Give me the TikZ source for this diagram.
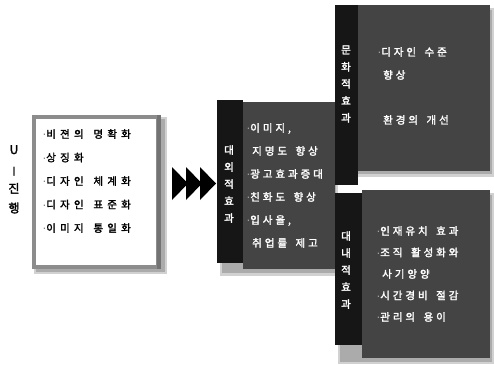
\documentclass[tikz,border=0pt]{standalone}
\usepackage{fontspec}
\newfontfamily\kr[LetterSpace=28,WordSpace=1.6,FakeBold=2.2]{Noto Sans CJK KR}
\newfontfamily\krw[LetterSpace=40,WordSpace=1.5,FakeBold=2.0]{Noto Sans CJK KR}
\newfontfamily\krv[FakeBold=2.2]{Noto Sans CJK KR}
\newfontfamily\dotf{DejaVu Sans}
\newcommand\bul{{\dotf\fontsize{8}{8}\selectfont ·}\hspace{0.5pt}}
\definecolor{bodyc}{HTML}{444444}
\definecolor{stripc}{HTML}{161616}
\definecolor{framec}{HTML}{8C8C8C}
\begin{document}
\begin{tikzpicture}[x=1pt,y=-1pt,
  softshadow/.style={fill=black,opacity=0.18},
  bodybox/.style={fill=bodyc,draw=none,inner sep=0,anchor=north west},
  stripbox/.style={fill=stripc,draw=none,inner sep=0,anchor=north west},
  whitetext/.style={text=white,font=\kr\fontsize{10.5}{23}\selectfont,align=left,inner sep=0,anchor=north west},
  blacktext/.style={text=black,font=\krw\fontsize{10.5}{23.5}\selectfont,align=left,inner sep=0,anchor=north west},
  vtext/.style={text=white,font=\krv\fontsize{10.5}{17}\selectfont,align=center,inner sep=0},
  arrowtri/.style={fill=black}
]
\useasboundingbox (0,0) rectangle (494,364);

% ---------- left box ----------
\fill[softshadow] (34,117) rectangle (167,274);
\fill[softshadow] (36,119) rectangle (165,272);
\node[fill=white,draw=framec,line width=3.5pt,inner sep=0,anchor=north west,
      minimum width=124,minimum height=150] (lb) at (32,115) {};
\draw[line width=4pt,draw=black!55] ([xshift=-1pt]lb.north east) -- ([xshift=-1pt]lb.south east);
\node[blacktext] (lbt) at (43,129)
  {\bul 비젼의 명확화\\\bul 상징화\\\bul 디자인 체계화\\\bul 디자인 표준화\\\bul 이미지 통일화};

% ---------- label U-진행 ----------
\node[text=black,font=\krv\fontsize{12}{19.5}\selectfont,align=center,inner sep=0,anchor=north]
  (ulab) at (14,145) {U\\{\fontsize{8}{8}\selectfont |}\\진\\행};

% ---------- arrows ----------
\fill[arrowtri] (172,167) -- (188,183.5) -- (172,200) -- cycle;
\fill[arrowtri] (186,167) -- (202,183.5) -- (186,200) -- cycle;
\fill[arrowtri] (200,167) -- (216,183.5) -- (200,200) -- cycle;

% ---------- middle box ----------
\fill[softshadow] (220,104) rectangle (338,276);
\fill[softshadow] (222,106) rectangle (336,273);
\node[bodybox,minimum width=92,minimum height=167] (mb) at (243,102) {};
\node[stripbox,minimum width=26,minimum height=163] (ms) at (217,100) {};
\node[vtext] (mst) at (229,184) {대\\외\\적\\효\\과};
\node[whitetext] (mbt) at (247,123)
  {\bul 이미지,\\\hspace{5pt}지명도 향상\\\bul 광고효과증대\\\bul 친화도 향상\\\bul 입사율,\\\hspace{5pt}취업률 제고};

% ---------- upper right box ----------
\fill[softshadow] (338,8) rectangle (494,177);
\fill[softshadow] (340,10) rectangle (492,174);
\node[bodybox,minimum width=132,minimum height=166] (ub) at (358,5) {};
\node[stripbox,minimum width=23,minimum height=180] (us) at (335,5) {};
\node[vtext] (ust) at (346,84) {문\\화\\적\\효\\과};
\node[whitetext] (ubt) at (378,47)
  {\bul 디자인 수준\\\hspace{5pt}향상\\[22pt]\hspace{5pt}환경의 개선};

% ---------- lower right box ----------
\fill[softshadow] (338,193) rectangle (494,364);
\fill[softshadow] (340,195) rectangle (492,362);
\node[bodybox,minimum width=128,minimum height=168] (lrb) at (362,190) {};
\node[stripbox,minimum width=27,minimum height=152] (lrs) at (335,193) {};
\node[vtext] (lrst) at (346,270) {대\\내\\적\\효\\과};
\node[whitetext,font=\kr\fontsize{10.5}{21.5}\selectfont] (lrbt) at (377,226)
  {\bul 인재유치 효과\\\bul 조직 활성화와\\\hspace{5pt}사기앙양\\\bul 시간경비 절감\\\bul 관리의 용이};
\end{tikzpicture}
\end{document}
